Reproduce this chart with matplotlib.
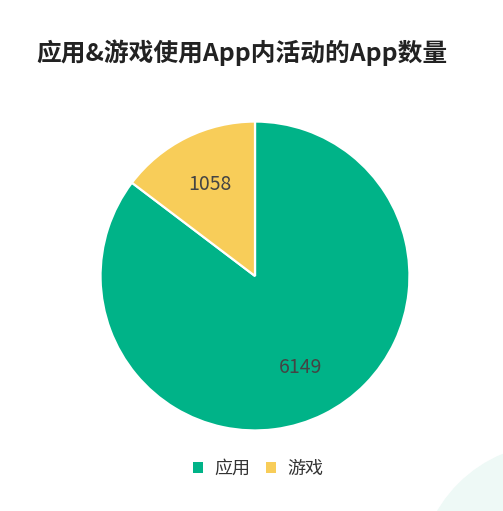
import matplotlib.pyplot as plt
from matplotlib.patches import Ellipse, Patch

plt.rcParams['font.family'] = ['Noto Sans CJK SC', 'DejaVu Sans']

title = '应用&游戏使用App内活动的App数量'
categories = ['应用', '游戏']
counts = [6149, 1058]
colors = ['#00b388', '#f8cd59']

W, H = 503, 511
fig = plt.figure(figsize=(W / 100, H / 100), dpi=100)

# faint decorative circle bottom right
fig.add_artist(Ellipse((555 / W, 1 - 580 / H), 2 * 136 / W, 2 * 136 / H,
                       transform=fig.transFigure, color='#eef9f6', zorder=0))

cx, cy, r = 255, 276, 156
ax = fig.add_axes([(cx - r) / W, 1 - (cy + r) / H, 2 * r / W, 2 * r / H])
wedges, texts = ax.pie(counts, colors=colors, startangle=90, counterclock=False,
                       labels=[str(c) for c in counts], labeldistance=0.66,
                       wedgeprops=dict(edgecolor='white', linewidth=1.6),
                       textprops=dict(fontsize=14, color='#444444', ha='center', va='center'))
ax.set_xlim(-1.01, 1.01)
ax.set_ylim(-1.01, 1.01)
ax.set_aspect('equal')

fig.text(36 / W, 1 - 53 / H, title, fontsize=17.8, fontweight='bold',
         color='#222222', ha='left', va='center')

handles = [Patch(facecolor=c, edgecolor='none') for c in colors]
fig.legend(handles, categories, loc='center', bbox_to_anchor=(258 / W, 1 - 469 / H),
           ncol=2, frameon=False, fontsize=13, handlelength=0.55, handleheight=0.55,
           handletextpad=0.6, columnspacing=0.9, labelcolor='#333333')

fig.savefig('out.png', dpi=100)
